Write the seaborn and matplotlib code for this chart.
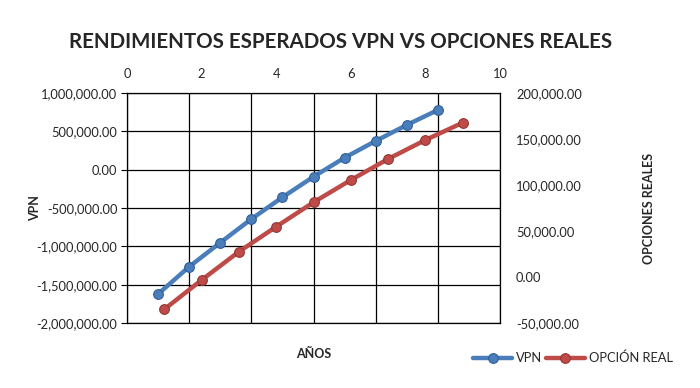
import matplotlib
matplotlib.use("Agg")
import matplotlib.pyplot as plt
import seaborn as sns
import pandas as pd
from matplotlib.ticker import FuncFormatter, MultipleLocator

sns.set_style("white")
plt.rcParams['font.family'] = ['Lato', 'DejaVu Sans']

# Data
vpn_years = [1, 2, 3, 4, 5, 6, 7, 8, 9, 10]
vpn_values = [-1622000, -1266000, -952000, -644000, -360000, -92000, 156000, 374000, 583000, 778000]
real_years = [1, 2, 3, 4, 5, 6, 7, 8, 9]
real_values = [-35100, -3300, 27500, 54700, 81200, 105400, 128300, 148900, 167700]

title = "RENDIMIENTOS ESPERADOS VPN VS OPCIONES REALES"
blue = "#4A7EBB"
red = "#BE4B48"

fig = plt.figure(figsize=(7, 3.88), dpi=100)
pos = [127/700, 1-323/388, (500-127)/700, (323-93)/388]
ax = fig.add_axes(pos)
ax2 = fig.add_axes(pos, frameon=False)

df1 = pd.DataFrame({"x": vpn_years, "y": vpn_values})
df2 = pd.DataFrame({"x": real_years, "y": real_values})

sns.lineplot(data=df1, x="x", y="y", ax=ax, color=blue, linewidth=3.2, marker="o",
             markersize=7, markeredgecolor="#2F5F98", markeredgewidth=0.8, label="VPN", legend=False)
sns.lineplot(data=df2, x="x", y="y", ax=ax2, color=red, linewidth=3.2, marker="o",
             markersize=7, markeredgecolor="#943634", markeredgewidth=0.8, label="OPCIÓN REAL", legend=False)

fmt = FuncFormatter(lambda v, p: f"{v:,.2f}")
fs = 9.3

# primary axes
ax.set_xlim(0, 12)
ax.xaxis.set_major_locator(MultipleLocator(2))
ax.set_ylim(-2000000, 1000000)
ax.yaxis.set_major_locator(MultipleLocator(500000))
ax.yaxis.set_major_formatter(fmt)
ax.tick_params(axis="x", bottom=False, labelbottom=False)
ax.tick_params(axis="y", left=True, length=4, width=0.8, color="black", labelsize=fs, pad=3)
ax.grid(True, color="black", linewidth=0.9)
for s in ax.spines.values():
    s.set_color("black")
    s.set_linewidth(0.9)
ax.set_xlabel("AÑOS", fontsize=9, fontweight="bold", labelpad=18)
ax.set_ylabel("VPN", fontsize=9, fontweight="bold", labelpad=-3)

# secondary axes
ax2.set_xlim(0, 10)
ax2.set_ylim(-50000, 200000)
ax2.xaxis.set_major_locator(MultipleLocator(2))
ax2.yaxis.set_major_locator(MultipleLocator(50000))
ax2.yaxis.set_major_formatter(fmt)
ax2.xaxis.tick_top()
ax2.yaxis.tick_right()
ax2.xaxis.set_label_position("top")
ax2.yaxis.set_label_position("right")
ax2.tick_params(axis="x", top=False, labelsize=fs, pad=6)
ax2.tick_params(axis="y", right=False, labelsize=fs, pad=8)
ax2.set_xlabel("")
ax2.set_ylabel("OPCIONES REALES", fontsize=9, fontweight="bold", labelpad=44)
ax2.patch.set_alpha(0)

fig.text(0.487, 1-42/388, title, ha="center", va="center", fontsize=14.8, fontweight="bold")

h1, l1 = ax.get_legend_handles_labels()
h2, l2 = ax2.get_legend_handles_labels()
fig.legend(h1 + h2, l1 + l2, loc="center", bbox_to_anchor=(573/700, 1-358/388), ncol=2,
           frameon=False, fontsize=fs, handlelength=3, columnspacing=0.3, handletextpad=0.3)

fig.savefig("out.png", dpi=100)
